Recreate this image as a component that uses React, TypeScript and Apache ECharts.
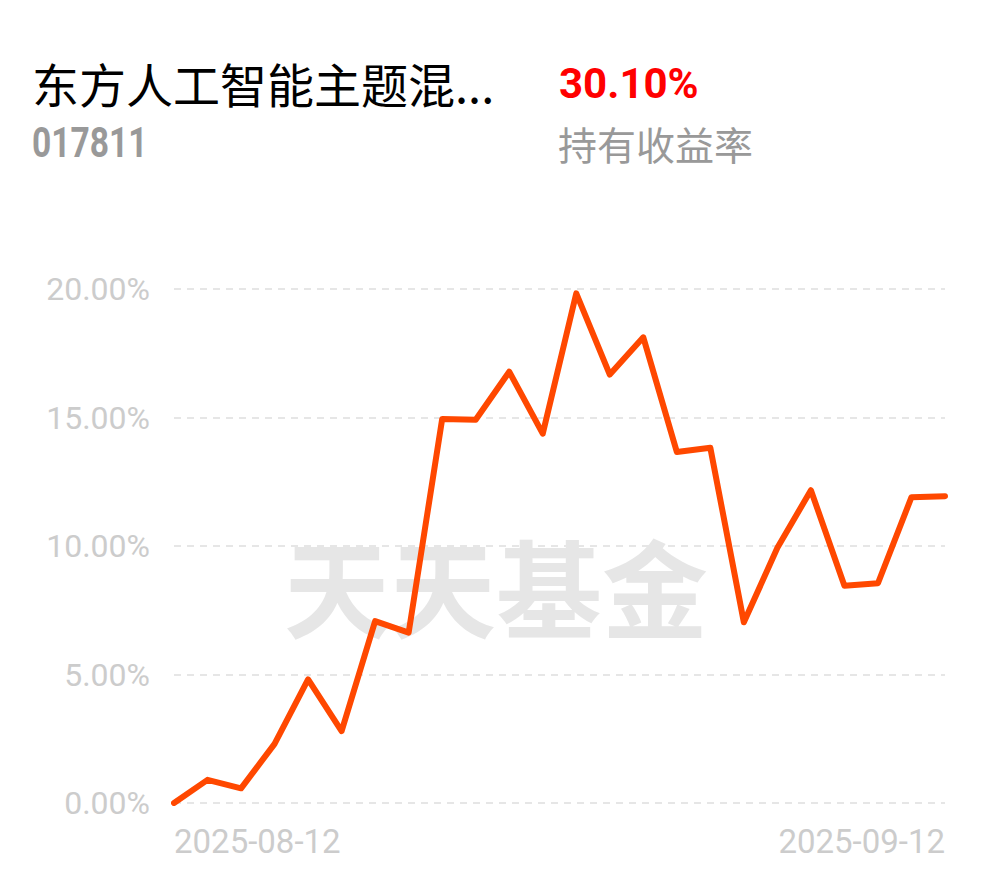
import React, { useEffect, useRef } from "react";
import * as echarts from "echarts";

const dates = [
  "2025-08-12", "2025-08-13", "2025-08-14", "2025-08-15",
  "2025-08-18", "2025-08-19", "2025-08-20", "2025-08-21", "2025-08-22",
  "2025-08-25", "2025-08-26", "2025-08-27", "2025-08-28", "2025-08-29",
  "2025-09-01", "2025-09-02", "2025-09-03", "2025-09-04", "2025-09-05",
  "2025-09-08", "2025-09-09", "2025-09-10", "2025-09-11", "2025-09-12",
];

const returns = [
  0.0, 0.9, 0.57, 2.3, 4.81, 2.8, 7.08, 6.63, 14.94, 14.91, 16.78, 14.37,
  19.83, 16.67, 18.12, 13.66, 13.82, 7.03, 9.93, 12.17, 8.45, 8.55, 11.9, 11.94,
];

const fundName = "东方人工智能主题混...";
const fundCode = "017811";
const holdReturn = "30.10%";
const holdReturnLabel = "持有收益率";
const watermark = "天天基金";

export default function App() {
  const ref = useRef<HTMLDivElement>(null);

  useEffect(() => {
    if (!ref.current) return;
    const chart = echarts.init(ref.current, undefined, { renderer: "svg" });
    const last = dates.length - 1;
    chart.setOption({
      animation: false,
      backgroundColor: "#ffffff",
      grid: { left: 174, right: 45, top: 289, bottom: 75, containLabel: false },
      xAxis: {
        type: "category",
        data: dates,
        boundaryGap: false,
        axisLine: { show: false },
        axisTick: { show: false },
        splitLine: { show: false },
        axisLabel: {
          interval: (i: number) => i === 0 || i === last,
          color: "#cccccc",
          fontSize: 33,
          fontFamily: "Roboto",
          margin: 22,
          alignMinLabel: "left",
          alignMaxLabel: "right",
        },
      },
      yAxis: {
        type: "value",
        min: 0,
        max: 20,
        interval: 5,
        axisLine: { show: false },
        axisTick: { show: false },
        splitLine: {
          show: true,
          lineStyle: { color: "#e6e6e6", width: 2, type: [7, 6] },
        },
        axisLabel: {
          color: "#cccccc",
          fontSize: 32,
          fontFamily: "Roboto",
          margin: 24,
          formatter: (v: number) => v.toFixed(2) + "%",
        },
      },
      series: [
        {
          type: "line",
          data: returns,
          symbol: "none",
          z: 5,
          lineStyle: { color: "#ff4800", width: 6, cap: "round", join: "round" },
        },
      ],
      graphic: [
        {
          type: "text",
          z: -10,
          x: 496,
          y: 584,
          silent: true,
          style: {
            text: watermark,
            fill: "#e6e6e6",
            font: 'bold 106px "Noto Sans CJK SC"',
            textAlign: "center",
            textVerticalAlign: "middle",
          },
        },
        {
          type: "text",
          x: 32,
          y: 82,
          style: {
            text: fundName,
            fill: "#000000",
            font: '47px "Noto Sans CJK SC"',
            textAlign: "left",
            textVerticalAlign: "middle",
          },
        },
        {
          type: "text",
          x: 32,
          y: 142,
          scaleX: 0.78,
          style: {
            text: fundCode,
            fill: "#999999",
            font: 'bold 43px Roboto',
            textAlign: "left",
            textVerticalAlign: "middle",
          },
        },
        {
          type: "text",
          x: 559,
          y: 83,
          style: {
            text: holdReturn,
            fill: "#ff0000",
            font: 'bold 42px Roboto',
            textAlign: "left",
            textVerticalAlign: "middle",
          },
        },
        {
          type: "text",
          x: 558,
          y: 143,
          style: {
            text: holdReturnLabel,
            fill: "#999999",
            font: '39px "Noto Sans CJK SC"',
            textAlign: "left",
            textVerticalAlign: "middle",
          },
        },
      ],
    });
    return () => chart.dispose();
  }, []);

  return (
    <div
      ref={ref}
      style={{ position: "fixed", left: 0, top: 0, width: 990, height: 878 }}
    />
  );
}
